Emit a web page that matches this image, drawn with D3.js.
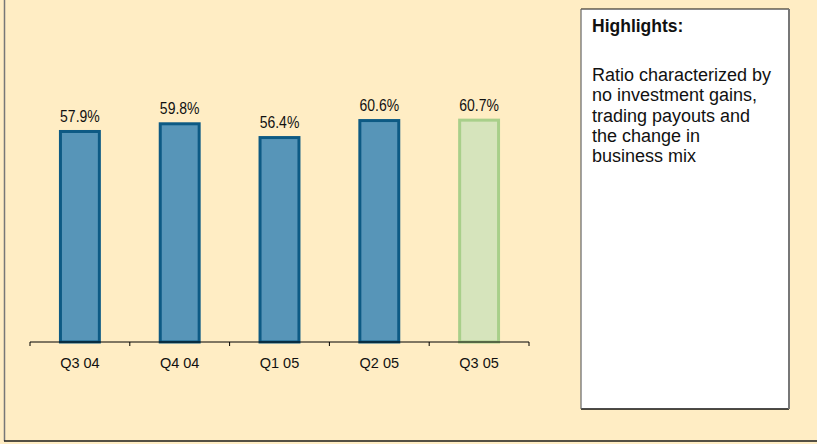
<!DOCTYPE html>
<html>
<head>
<meta charset="utf-8">
<script src="https://cdn.jsdelivr.net/npm/d3@7"></script>
<style>
  html, body { margin: 0; padding: 0; background: #FFEDC4; }
  svg { display: block; font-family: Arial, "Liberation Sans", sans-serif; }
</style>
</head>
<body>
<svg id="chart" width="817" height="444"></svg>
<script>
const categories = ["Q3 04", "Q4 04", "Q1 05", "Q2 05", "Q3 05"];
const values = [57.9, 59.8, 56.4, 60.6, 60.7];
const highlighted = [false, false, false, false, true];
const noteTitle = "Highlights:";
const noteLines = ["Ratio characterized by", "no investment gains,", "trading payouts and", "the change in", "business mix"];

const svg = d3.select("#chart");
const W = 817, H = 444;

svg.append("rect").attr("x", 0).attr("y", 0).attr("width", W).attr("height", H).attr("fill", "#FFEDC4");
// outer frame (left + bottom)
svg.append("line").attr("x1", 4.5).attr("x2", 4.5).attr("y1", 0).attr("y2", 441).attr("stroke", "#777").attr("stroke-width", 1.5);
svg.append("line").attr("x1", 4).attr("x2", W).attr("y1", 441).attr("y2", 441).attr("stroke", "#1a1a1a").attr("stroke-width", 1.5);

const x = d3.scaleBand().domain(categories).range([30, 529]).paddingInner(0.58).paddingOuter(0.29);
const y = d3.scaleLinear().domain([5.55, 70]).range([342, 342 - 64.45 * 4.05]);

const g = svg.append("g");
g.selectAll("rect.bar").data(values).join("rect")
  .attr("class", "bar")
  .attr("x", (d, i) => x(categories[i]) + 1.5)
  .attr("width", x.bandwidth() - 3)
  .attr("y", d => y(d) + 1.5)
  .attr("height", d => 342 - y(d) - 1.5)
  .attr("fill", (d, i) => highlighted[i] ? "#D6E4BC" : "#5795B8")
  .attr("stroke", (d, i) => highlighted[i] ? "#A8CF8A" : "#0D5A84")
  .attr("stroke-width", 3);

g.selectAll("text.val").data(values).join("text")
  .attr("class", "val")
  .attr("transform", (d, i) => `translate(${x(categories[i]) + x.bandwidth() / 2},${y(d) - 8}) scale(1,1.12)`)
  .attr("text-anchor", "middle")
  .attr("font-size", 14)
  .attr("fill", "#111")
  .text(d => d.toFixed(1) + "%");

// axis with ticks at band boundaries
const axisG = svg.append("g").attr("transform", "translate(0,342)");
const bounds = d3.range(categories.length + 1).map(i => 30 + i * (499 / categories.length));
axisG.append("line").attr("x1", 30).attr("x2", 529).attr("y1", 0).attr("y2", 0).attr("stroke", "#000").attr("stroke-width", 1);
axisG.selectAll("line.tk").data(bounds).join("line").attr("class", "tk")
  .attr("x1", d => d).attr("x2", d => d).attr("y1", 0).attr("y2", 4).attr("stroke", "#000");
axisG.selectAll("text").data(categories).join("text")
  .attr("x", d => x(d) + x.bandwidth() / 2)
  .attr("y", 26)
  .attr("text-anchor", "middle")
  .attr("font-size", 14.5)
  .attr("fill", "#111")
  .text(d => d);

// highlights box
const bx = 581, by = 9, bw = 208, bh = 400;
svg.append("rect").attr("x", bx).attr("y", by).attr("width", bw).attr("height", bh).attr("fill", "#fff");
svg.append("line").attr("x1", bx).attr("x2", bx + bw).attr("y1", by).attr("y2", by).attr("stroke", "#111").attr("stroke-width", 1);
svg.append("line").attr("x1", bx).attr("x2", bx + bw).attr("y1", by + bh).attr("y2", by + bh).attr("stroke", "#111").attr("stroke-width", 1.5);
svg.append("line").attr("x1", bx).attr("x2", bx).attr("y1", by).attr("y2", by + bh).attr("stroke", "#666").attr("stroke-width", 1.2);
svg.append("line").attr("x1", bx + bw).attr("x2", bx + bw).attr("y1", by).attr("y2", by + bh).attr("stroke", "#777").attr("stroke-width", 2);

svg.append("text").attr("x", 592).attr("y", 32).attr("font-size", 17.5).attr("font-weight", "bold").attr("fill", "#111").text(noteTitle);
svg.append("g").selectAll("text").data(noteLines).join("text")
  .attr("x", 592).attr("y", (d, i) => 81 + i * 20.3)
  .attr("font-size", 18).attr("fill", "#111").text(d => d);
</script>
</body>
</html>
